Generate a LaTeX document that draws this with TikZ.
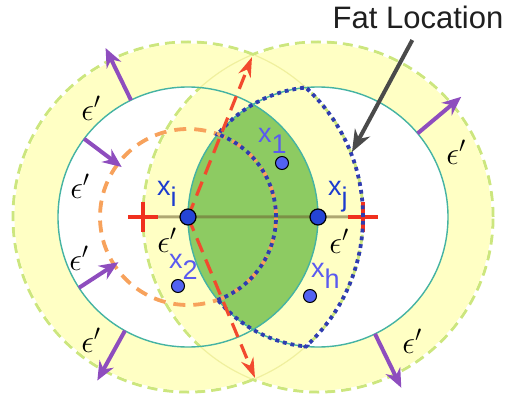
\RequirePackage{fix-cm}
\documentclass[tikz,border=0pt]{standalone}
\usepackage{fontspec}
\setmainfont{Liberation Sans}
\usepackage{tikz}
\usetikzlibrary{arrows.meta,positioning,shapes.misc,calc}
\definecolor{ringyellow}{HTML}{FFFFC4}
\definecolor{rimgreen}{HTML}{CCE67E}
\definecolor{rimpale}{HTML}{F0F09E}
\definecolor{tealline}{HTML}{45B3A3}
\definecolor{lensgreen}{HTML}{8DCB62}
\definecolor{dotblue}{HTML}{2F3CB0}
\definecolor{orangedash}{HTML}{F7A25C}
\definecolor{crossred}{HTML}{F0301E}
\definecolor{arrowred}{HTML}{F24A2E}
\definecolor{epsviolet}{HTML}{8E4DBE}
\definecolor{pointblue}{HTML}{2544D6}
\definecolor{pointlight}{HTML}{5262F2}
\definecolor{labelblue}{HTML}{1C3CCF}
\definecolor{labellight}{HTML}{5A5AF0}
\definecolor{pointergray}{HTML}{4A4A4A}
\definecolor{segolive}{HTML}{6E6230}
\newcommand{\Rin}{88}
\newcommand{\Rmid}{130}
\newcommand{\Rout}{175}
\newcommand{\ptname}[1]{x\raisebox{-11pt}{#1}}

\begin{document}
\begin{tikzpicture}[x=1pt, y=1pt,
  rim/.style={draw=rimgreen, line width=3pt, dash pattern=on 10pt off 6pt},
  rimfaint/.style={draw=rimpale, line width=1.2pt},
  ring/.style={fill=ringyellow, even odd rule},
  disk/.style={draw=tealline, line width=1.4pt},
  fatrim/.style={draw=dotblue, line width=3.8pt, dash pattern=on 3.8pt off 4pt},
  innerrim/.style={draw=orangedash, line width=3.8pt, dash pattern=on 12pt off 8pt},
  seg/.style={draw=segolive, line width=3pt, opacity=0.55},
  plus/.style={cross out, draw=crossred, line width=4pt, minimum size=17pt, inner sep=0pt, rotate=45},
  redarrow/.style={draw=arrowred, line width=3.2pt, dash pattern=on 15pt off 8pt, -{Stealth[length=20pt,width=13pt]}},
  epsarrow/.style={draw=epsviolet, line width=4pt, -{Stealth[length=19pt,width=16pt]}},
  pointer/.style={draw=pointergray, line width=4pt, -{Stealth[length=22pt,width=17pt]}},
  bigdot/.style={circle, fill=pointblue, draw=black, line width=1.2pt, minimum size=16pt, inner sep=0pt},
  smalldot/.style={circle, fill=pointlight, draw=black, line width=1pt, minimum size=13pt, inner sep=0pt},
  mainlbl/.style={font=\fontsize{27}{27}\selectfont, text=labelblue, inner sep=0pt, anchor=base west},
  sidelbl/.style={font=\fontsize{27}{27}\selectfont, text=labellight, inner sep=0pt, anchor=base west},
  eps/.style={font=\fontsize{32}{32}\selectfont, inner sep=0pt}
]
  \useasboundingbox (0,0) rectangle (508,397);
  \coordinate (xi) at (188,180);
  \coordinate (xj) at (318,180);

  % outer rims and yellow rings
  \draw[rim] (xi) circle[radius=\Rout] (xj) circle[radius=\Rout];
  \fill[ring] (xi) circle[radius=\Rout-1.5] (xi) circle[radius=\Rmid];
  \fill[ring] (xj) circle[radius=\Rout-1.5] (xj) circle[radius=\Rmid];
  \begin{scope}[even odd rule]
    \clip (xj) circle[radius=\Rout-1.5] (xj) circle[radius=\Rmid];
    \draw[rimfaint] (xi) circle[radius=\Rout];
  \end{scope}
  \begin{scope}[even odd rule]
    \clip (xi) circle[radius=\Rout-1.5] (xi) circle[radius=\Rmid];
    \draw[rimfaint] (xj) circle[radius=\Rout];
  \end{scope}

  % lens
  \begin{scope}
    \clip (xi) circle[radius=\Rmid];
    \fill[lensgreen] (xj) circle[radius=\Rmid];
  \end{scope}
  \draw[disk] (xi) circle[radius=\Rmid] (xj) circle[radius=\Rmid];

  % segment between the crosses
  \node[plus] (lcross) at (143,180) {};
  \node[plus] (rcross) at (363,180) {};
  \draw[seg] (lcross) -- (rcross);

  \draw[innerrim] (xi) circle[radius=\Rin];

  % fat location
  \begin{scope}
    \clip (xj) circle[radius=\Rmid+2];
    \draw[fatrim] (xi) circle[radius=\Rout] (xi) circle[radius=\Rin];
  \end{scope}
  \begin{scope}[even odd rule]
    \clip (xi) circle[radius=\Rout+2] (xi) circle[radius=\Rin-2];
    \draw[fatrim] (xj) circle[radius=\Rmid];
  \end{scope}

  \coordinate (topmeet) at (252,340);
  \coordinate (botmeet) at (255,19);
  \draw[redarrow] (xi) -- (topmeet);
  \draw[redarrow] (xi) -- (botmeet);

  \foreach \c/\a/\t in {xi/116/188, xi/143/83, xi/213/83, xi/241/187, xj/40/187, xj/296/190}
    \draw[epsarrow] ($(\c)+(\a:\Rmid)$) -- ($(\c)+(\a:\t)$);

  \node[eps] (e1) at (91,289) {$\epsilon'$};
  \node[eps] (e2) at (80,211) {$\epsilon'$};
  \node[eps] (e3) at (79,139) {$\epsilon'$};
  \node[eps] (e4) at (91,57) {$\epsilon'$};
  \node[eps] (e5) at (456,245) {$\epsilon'$};
  \node[eps] (e6) at (412,56) {$\epsilon'$};
  \node[eps] (e7) at (167,157) {$\epsilon'$};
  \node[eps] (e8) at (339,156) {$\epsilon'$};

  % points
  \node[bigdot] (pxi) at (xi) {};
  \node[bigdot] (pxj) at (xj) {};
  \node[smalldot] (px1) at (282,234) {};
  \node[smalldot] (px2) at (178,111) {};
  \node[smalldot] (pxh) at (310,101) {};
  \node[mainlbl] (lxi) at (157,202) {\ptname{i}};
  \node[mainlbl] (lxj) at (328,202) {\ptname{j}};
  \node[sidelbl] (lx1) at (258,255) {\ptname{1}};
  \node[sidelbl] (lx2) at (169,129) {\ptname{2}};
  \node[sidelbl] (lxh) at (311,120) {\ptname{h}};

  \node[font=\fontsize{31}{31}\selectfont, text=black!88, inner sep=0pt, anchor=base] (fatlbl) at (418,368) {Fat Location};
  \coordinate (fattip) at (352,245);
  \draw[pointer, shorten <=12pt] (fatlbl.south) -- (fattip);
\end{tikzpicture}
\end{document}
